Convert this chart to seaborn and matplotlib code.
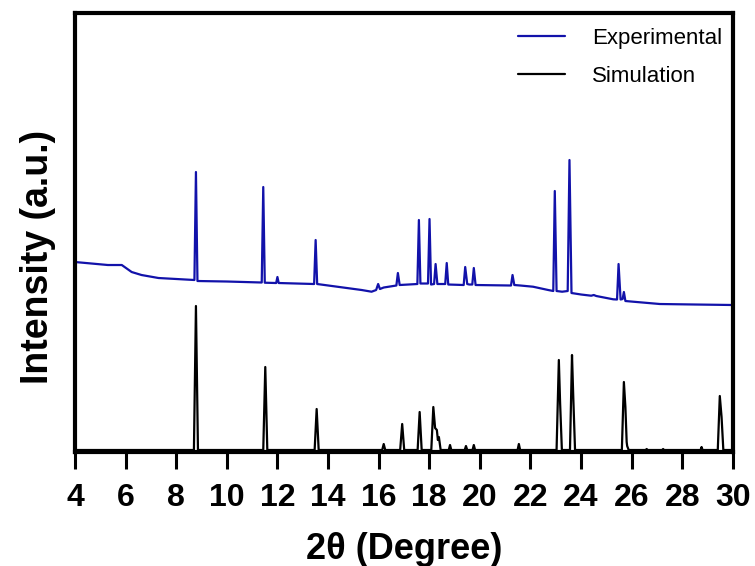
import matplotlib
matplotlib.use("Agg")
import matplotlib.pyplot as plt
import seaborn as sns
import pandas as pd

# =========================
# dados (2θ em graus, intensidade em u.a.)
# =========================
exp_2theta = [
    4.0, 5.3, 5.85, 6.24, 6.63, 7.3, 8.72, 8.78, 8.84,
    10.0, 11.38, 11.44, 11.50, 11.95, 12.0, 12.05,
    13.45, 13.51, 13.57, 15.33, 15.72, 15.9, 15.98, 16.05, 16.2,
    16.7, 16.76, 16.83, 17.53, 17.59, 17.65, 17.95, 18.01, 18.07,
    18.19, 18.25, 18.32, 18.63, 18.69, 18.75, 19.36, 19.42, 19.5,
    19.58, 19.7, 19.76, 19.83, 21.23, 21.29, 21.36, 21.6, 22.1,
    22.7, 22.9, 22.96, 23.03, 23.25, 23.47, 23.54, 23.62, 24.0,
    24.4, 24.5, 24.6, 25.27, 25.42, 25.48, 25.56, 25.64, 25.69,
    25.75, 26.06, 27.11, 28.5, 30.0
]
exp_intensity = [
    190, 187, 187, 180, 177, 174, 172, 280, 171,
    170.5, 169.5, 265, 169.3, 169, 175, 169,
    168, 212, 168, 162, 160.3, 162, 168, 163, 164.5,
    166.5, 179, 167, 168, 232, 168.5, 168.5, 233, 167.5,
    168, 188, 168, 168, 189, 167.5, 167, 185, 168,
    167.5, 167.5, 184, 167, 166.5, 177, 167, 166.5, 165.3,
    162, 161, 261, 161, 160.3, 161, 292, 159, 157.5,
    156.3, 157, 156, 152.7, 152.5, 188, 152.5, 153, 160,
    151, 150.3, 148, 147.5, 147
]

sim_2theta = [
    4.0, 8.7, 8.78, 8.86, 11.44, 11.52, 11.60, 13.47, 13.55, 13.63,
    16.14, 16.2, 16.26, 16.85, 16.93, 17.01, 17.54, 17.62, 17.70,
    18.08, 18.16, 18.23, 18.30, 18.34, 18.38, 18.45, 18.77, 18.82, 18.87,
    19.4, 19.45, 19.5, 19.71, 19.76, 19.81, 21.49, 21.54, 21.59,
    23.03, 23.12, 23.17, 23.24, 23.56, 23.64, 23.69, 23.76,
    25.61, 25.69, 25.75, 25.80, 25.82, 25.88, 26.55, 26.59, 26.63,
    27.2, 27.24, 27.28, 28.72, 28.76, 28.8, 29.40, 29.48, 29.55, 29.62, 30.0
]
sim_intensity = [
    2, 2, 146, 2, 2, 85, 2, 2, 43, 2,
    2, 8, 2, 2, 28, 2, 2, 40, 2,
    2, 45, 24, 22, 12, 15, 2, 2, 7, 2,
    2, 6, 2, 2, 7, 2, 2, 8, 2,
    2, 92, 49, 2, 2, 97, 55, 2,
    2, 70, 45, 10, 6, 2, 2, 3, 2,
    2, 3, 2, 2, 5, 2, 2, 56, 35, 2, 2
]

df_exp = pd.DataFrame({"x": exp_2theta, "y": exp_intensity})
df_sim = pd.DataFrame({"x": sim_2theta, "y": sim_intensity})

# =========================
# gráfico
# =========================
sns.set_style("ticks")
plt.rcParams["font.family"] = ["Liberation Sans", "DejaVu Sans"]
plt.rcParams["text.color"] = "black"
plt.rcParams["axes.labelcolor"] = "black"
plt.rcParams["xtick.color"] = "black"
plt.rcParams["axes.edgecolor"] = "black"

fig = plt.figure(figsize=(7.55, 5.66), dpi=100)
ax = fig.add_axes([0.0993, 0.2014, 0.8715, 0.7756])

sns.lineplot(data=df_exp, x="x", y="y", ax=ax, color="#1212aa",
             linewidth=1.6, estimator=None, sort=False, label="Experimental")
sns.lineplot(data=df_sim, x="x", y="y", ax=ax, color="black",
             linewidth=1.6, estimator=None, sort=False, label="Simulation")

ax.set_xlim(4, 30)
ax.set_ylim(0, 439)
ax.set_xticks(range(4, 31, 2))
ax.set_yticks([])

for lado in ["left", "right", "top", "bottom"]:
    ax.spines[lado].set_linewidth(3)
    ax.spines[lado].set_visible(True)
    ax.spines[lado].set_color("black")

ax.tick_params(axis="x", length=12, width=2.2, labelsize=23, pad=10.5,
               colors="black")
for t in ax.get_xticklabels():
    t.set_fontweight("bold")

ax.set_xlabel("2θ (Degree)", fontsize=26, fontweight="bold")
ax.set_ylabel("Intensity (a.u.)", fontsize=27, fontweight="bold")
ax.xaxis.set_label_coords(0.5, -0.182)
ax.yaxis.set_label_coords(-0.029, 0.444)

ax.legend(loc="upper right", bbox_to_anchor=(1.0, 0.991), frameon=False,
          fontsize=16, handlelength=2.1, handletextpad=1.2,
          labelspacing=0.75, borderaxespad=0.1)

fig.savefig("out.png", dpi=100)
